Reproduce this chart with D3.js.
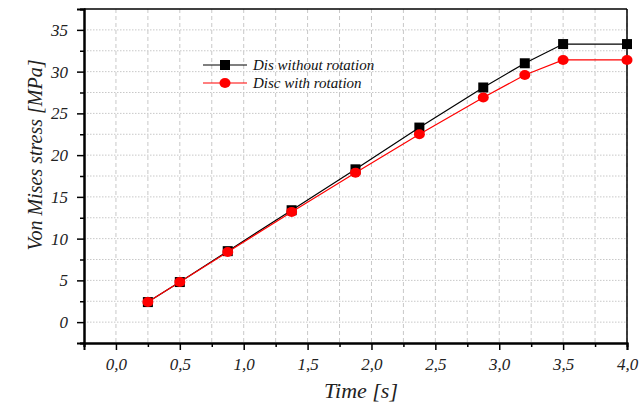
<!DOCTYPE html>
<html><head><meta charset="utf-8">
<script src="https://cdn.jsdelivr.net/npm/d3@7"></script>
</head><body style="margin:0">
<svg id="c" width="644" height="406"></svg>
<script>
const timeBlack = [0.25, 0.5, 0.875, 1.375, 1.875, 2.375, 2.875, 3.2, 3.5, 4.0];
const stressBlack = [2.4, 4.8, 8.5, 13.4, 18.3, 23.3, 28.1, 31.0, 33.3, 33.3];
const timeRed = [0.25, 0.5, 0.875, 1.375, 1.875, 2.375, 2.875, 3.2, 3.5, 4.0];
const stressRed = [2.4, 4.8, 8.4, 13.2, 17.9, 22.5, 26.9, 29.6, 31.4, 31.4];
const seriesNames = ["Dis without rotation", "Disc with rotation"];
const xTicks = [0, 0.5, 1.0, 1.5, 2.0, 2.5, 3.0, 3.5, 4.0];
const yTicks = [0, 5, 10, 15, 20, 25, 30, 35];

const FONT = "Liberation Serif";
const svg = d3.select("#c");
const L = 84, R = 627, T = 9, B = 343;
const x = d3.scaleLinear().domain([-0.25, 4.0]).range([L, R]);
const y = d3.scaleLinear().domain([-2.5, 37.5]).range([B, T]);
const fmt = d => d.toFixed(1).replace(".", ",");

function txt(sel, size, fill) {
  return sel.attr("font-family", FONT).attr("font-style", "italic").attr("font-size", size).attr("fill", fill);
}

// grid
const g = svg.append("g");
d3.range(0, 4.0001, 0.25).forEach(v => {
  g.append("line").attr("x1", x(v)).attr("x2", x(v)).attr("y1", T).attr("y2", B)
    .attr("stroke", "#c8c8c8").attr("stroke-width", 1).attr("stroke-dasharray", "4,3");
});
d3.range(0, 37.5, 2.5).forEach(v => {
  g.append("line").attr("x1", L).attr("x2", R).attr("y1", y(v)).attr("y2", y(v))
    .attr("stroke", "#c8c8c8").attr("stroke-width", 1).attr("stroke-dasharray", "1.5,1.5");
});

// top/right border
svg.append("line").attr("x1", L).attr("x2", R).attr("y1", T).attr("y2", T).attr("stroke", "#000").attr("stroke-width", 1.5);
svg.append("line").attr("x1", R).attr("x2", R).attr("y1", T).attr("y2", B).attr("stroke", "#000").attr("stroke-width", 1.5);

// axes
const xAxis = d3.axisBottom(x).tickValues(xTicks).tickFormat(fmt).tickSize(7).tickPadding(8);
const xMinor = d3.axisBottom(x).tickValues(d3.range(-0.25, 4.0, 0.5)).tickFormat("").tickSize(4);
const yAxis = d3.axisLeft(y).tickValues(yTicks).tickFormat(d3.format("d")).tickSize(7).tickPadding(9);
const yMinor = d3.axisLeft(y).tickValues(d3.range(-2.5, 37.6, 5)).tickFormat("").tickSize(4);

function style(sel){
  sel.attr("font-family", FONT).attr("font-size", 17);
  sel.select(".domain").attr("stroke", "#000").attr("stroke-width", 2);
  sel.selectAll(".tick line").attr("stroke", "#000").attr("stroke-width", 1.5);
  txt(sel.selectAll("text"), 17, "#222");
}
svg.append("g").attr("transform", `translate(0,${B})`).call(xMinor).call(style);
svg.append("g").attr("transform", `translate(0,${B})`).call(xAxis).call(style);
svg.append("g").attr("transform", `translate(${L},0)`).call(yMinor).call(style);
svg.append("g").attr("transform", `translate(${L},0)`).call(yAxis).call(style);

// titles
txt(svg.append("text").attr("x", 361).attr("y", 398).attr("text-anchor", "middle"), 22, "#222").text("Time [s]");
txt(svg.append("text").attr("transform", `translate(42,155) rotate(-90)`).attr("text-anchor", "middle"), 20, "#222")
  .text("Von Mises stress [MPa]");

// lines
const line = d3.line().x(d => x(d[0])).y(d => y(d[1]));
const black = timeBlack.map((t, i) => [t, stressBlack[i]]);
const red = timeRed.map((t, i) => [t, stressRed[i]]);
svg.append("path").datum(black).attr("d", line).attr("fill", "none").attr("stroke", "#000").attr("stroke-width", 1.2);
svg.append("g").selectAll("rect").data(black).join("rect")
  .attr("x", d => x(d[0]) - 5).attr("y", d => y(d[1]) - 5).attr("width", 10).attr("height", 10).attr("fill", "#000");
svg.append("path").datum(red).attr("d", line).attr("fill", "none").attr("stroke", "#ff0000").attr("stroke-width", 1.2);
svg.append("g").selectAll("ellipse").data(red).join("ellipse")
  .attr("cx", d => x(d[0])).attr("cy", d => y(d[1])).attr("rx", 5.5).attr("ry", 5).attr("fill", "#ff0000");

// legend
const lg = svg.append("g");
[[seriesNames[0], "#000", "sq", 65], [seriesNames[1], "#ff0000", "ci", 83]].forEach(([name, col, m, ly]) => {
  lg.append("line").attr("x1", 203).attr("x2", 247).attr("y1", ly).attr("y2", ly).attr("stroke", col).attr("stroke-width", 1.2);
  if (m === "sq") lg.append("rect").attr("x", 220).attr("y", ly - 5).attr("width", 10).attr("height", 10).attr("fill", col);
  else lg.append("ellipse").attr("cx", 225).attr("cy", ly).attr("rx", 5.5).attr("ry", 5).attr("fill", col);
  txt(lg.append("text").attr("x", 253).attr("y", ly + 5), 15, "#111").text(name);
});
</script>
</body></html>
